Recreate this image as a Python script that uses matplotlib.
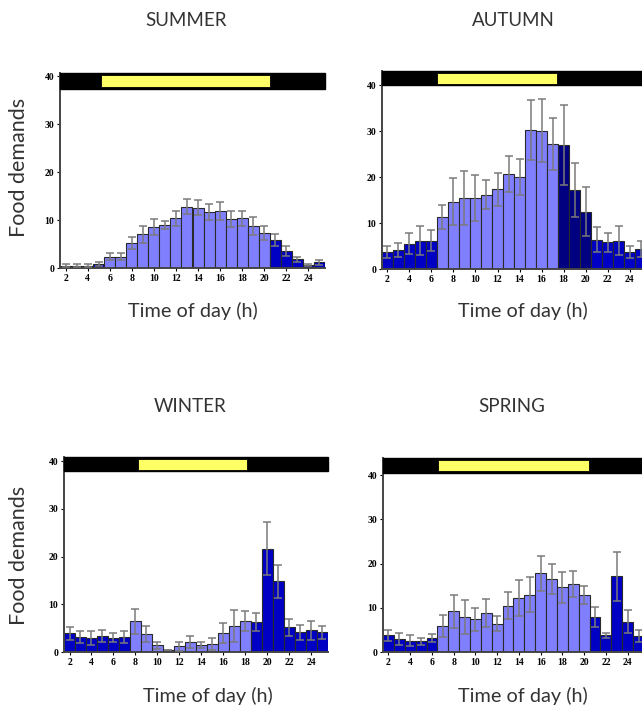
import numpy as np
import matplotlib
matplotlib.use("Agg")
import matplotlib.pyplot as plt
import matplotlib.transforms as mtransforms

# godziny (słupki 2..25)
hours = np.arange(2, 26)
x_ticks = np.arange(2, 25, 2)
y_ticks = [0, 10, 20, 30, 40]

# SUMMER
summer_mean = [0.5, 0.5, 0.5, 0.8, 2.4, 2.4, 5.2, 7.0, 8.5, 9.0, 10.4, 12.8,
               12.6, 11.7, 11.9, 10.2, 10.4, 8.8, 7.3, 5.8, 3.6, 1.8, 0.6, 1.2]
summer_top = [0.8, 0.8, 0.8, 1.2, 3.2, 3.2, 6.5, 8.8, 10.2, 9.9, 12.0, 14.4,
              14.1, 13.4, 13.7, 11.9, 12.0, 10.7, 8.7, 7.0, 4.6, 2.4, 0.8, 1.7]
summer_day = (5.2, 20.5)
summer_light = (6, 20)

# AUTUMN
autumn_mean = [3.6, 4.2, 5.5, 6.2, 6.2, 11.3, 14.6, 15.4, 15.4, 16.2, 17.4, 20.7,
               20.1, 30.2, 30.1, 27.2, 27.0, 17.2, 12.5, 6.4, 5.8, 6.2, 3.8, 4.3]
autumn_top = [4.9, 5.7, 7.8, 9.3, 8.4, 14.0, 19.7, 21.3, 20.4, 19.4, 21.0, 24.6,
              24.0, 36.7, 37.0, 32.8, 35.7, 23.0, 17.8, 9.1, 7.8, 9.3, 5.1, 6.0]
autumn_day = (6.5, 17.4)
autumn_light = (7, 17)
autumn_dusk = [18, 19, 20]

# WINTER
winter_mean = [3.9, 3.2, 2.9, 3.4, 3.0, 3.1, 6.4, 3.8, 1.4, 0.5, 1.2, 2.1,
               1.5, 1.7, 4.0, 5.5, 6.4, 6.2, 21.7, 14.8, 5.2, 4.1, 4.6, 4.1]
winter_top = [5.3, 4.5, 4.3, 4.7, 3.9, 4.4, 9.1, 5.5, 2.2, 0.5, 2.1, 3.3,
              2.1, 2.9, 6.1, 8.8, 8.5, 8.1, 27.2, 18.3, 7.0, 5.7, 6.6, 5.5]
winter_day = (8.2, 18.1)
winter_light = (8, 18)

# SPRING
spring_mean = [3.8, 3.0, 2.6, 2.4, 3.2, 5.8, 9.2, 7.9, 7.4, 8.8, 6.4, 10.5,
               12.2, 13.0, 17.8, 16.5, 14.6, 15.4, 12.9, 7.9, 3.8, 17.1, 6.9, 3.6]
spring_top = [5.0, 4.4, 3.9, 3.2, 4.1, 8.3, 12.9, 11.7, 10.0, 11.9, 8.1, 13.5,
              16.2, 16.9, 21.7, 19.9, 18.2, 18.4, 15.0, 10.2, 4.4, 22.6, 9.6, 4.9]
spring_day = (6.55, 20.45)
spring_light = (7, 20)

LIGHT = '#8080ff'
DARK = '#0000c4'
NAVY = '#000080'


def draw_panel(ax, mean, top, day, light, ymax, band_lo, dusk=()):
    mean = np.array(mean)
    err = np.array(top) - mean
    colors = []
    for h in hours:
        if h in dusk:
            colors.append(NAVY)
        elif light[0] <= h <= light[1]:
            colors.append(LIGHT)
        else:
            colors.append(DARK)
    ax.bar(hours, mean, width=1.0, color=colors, edgecolor='#2a2a2a', linewidth=0.8, zorder=2)
    ax.errorbar(hours, mean, yerr=err, fmt='none', ecolor='#7a7a7a', elinewidth=1.1,
                capsize=3, capthick=1.1, zorder=3)

    # pasek dzień / noc
    trans = mtransforms.blended_transform_factory(ax.transAxes, ax.transData)
    ax.add_patch(plt.Rectangle((0, band_lo), 1.0, ymax - band_lo, transform=trans,
                               facecolor='black', edgecolor='black', clip_on=False, zorder=4))
    pad = (ymax - band_lo) * 0.11
    ax.add_patch(plt.Rectangle((day[0], band_lo + pad), day[1] - day[0], ymax - band_lo - 2 * pad,
                               facecolor='#ffff66', edgecolor='black', linewidth=0.6,
                               clip_on=False, zorder=5))

    ax.set_xlim(1.5, 25.5)
    ax.set_ylim(0, ymax)
    ax.set_xticks(x_ticks)
    ax.set_yticks(y_ticks)
    for s in ['top', 'right']:
        ax.spines[s].set_visible(False)
    for s in ['left', 'bottom']:
        ax.spines[s].set_color('#444444')
        ax.spines[s].set_linewidth(1.4)
    ax.tick_params(direction='out', length=2.5, width=0.8, pad=1.5, colors='black')
    for lab in ax.get_xticklabels() + ax.get_yticklabels():
        lab.set_fontfamily('Liberation Serif')
        lab.set_fontweight('bold')
        lab.set_fontsize(7)


W, H = 642, 709
fig = plt.figure(figsize=(W / 100, H / 100), dpi=100)


def axes_px(left, right, y0, ytop):
    return fig.add_axes([left / W, 1 - y0 / H, (right - left) / W, (y0 - ytop) / H])


ax_su = axes_px(60, 325, 268, 73)
draw_panel(ax_su, summer_mean, summer_top, summer_day, summer_light, 40.7, 37.4)

ax_au = axes_px(382, 646, 269, 71)
draw_panel(ax_au, autumn_mean, autumn_top, autumn_day, autumn_light, 43.1, 40.0, dusk=autumn_dusk)

ax_wi = axes_px(64, 328, 652, 457)
draw_panel(ax_wi, winter_mean, winter_top, winter_day, winter_light, 40.9, 37.9)

ax_sp = axes_px(383, 644, 652, 458)
draw_panel(ax_sp, spring_mean, spring_top, spring_day, spring_light, 43.9, 40.5)

txt = dict(family='Lato', color='#333333')


def ftext(x, y, s, size, **kw):
    fig.text(x / W, 1 - y / H, s, ha='center', va='center', fontsize=size, **txt, **kw)


ftext(186, 21, 'SUMMER', 13.5)
ftext(513, 21, 'AUTUMN', 13.5)
ftext(190, 406, 'WINTER', 13.5)
ftext(512, 406, 'SPRING', 13.5)

ftext(193, 311, 'Time of day (h)', 14.3)
ftext(523, 311, 'Time of day (h)', 14.3)
ftext(208, 696, 'Time of day (h)', 14.3)
ftext(523, 696, 'Time of day (h)', 14.3)

ftext(19, 167, 'Food demands', 15.5, rotation=90)
ftext(19, 555, 'Food demands', 15.5, rotation=90)

fig.savefig('out.png', dpi=100)
